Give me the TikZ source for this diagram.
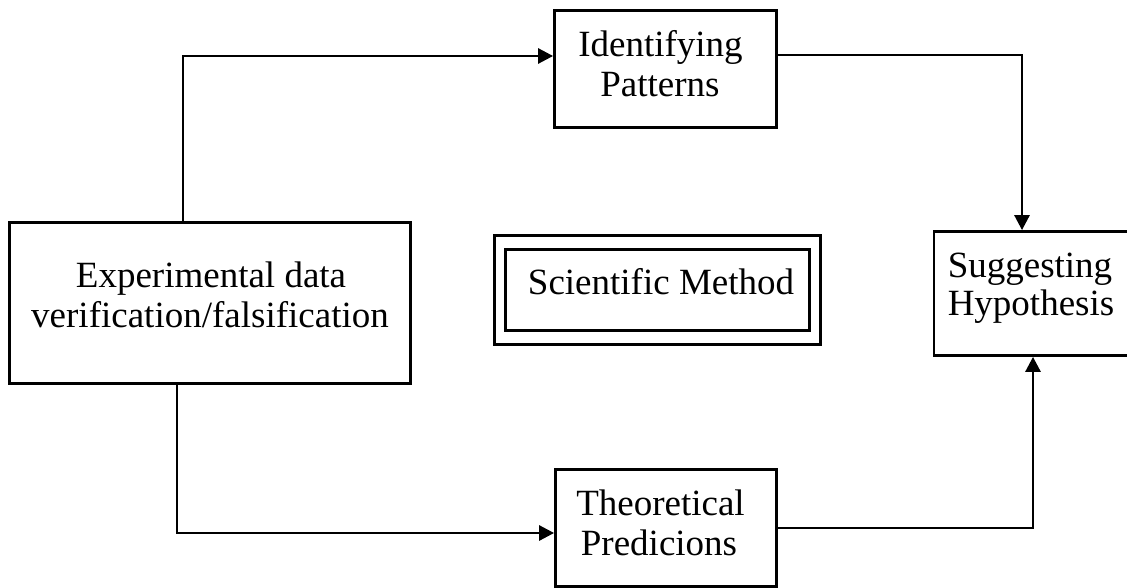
\documentclass[tikz,border=0pt]{standalone}
\usepackage{fontspec}
\setmainfont{Liberation Serif}
\usetikzlibrary{arrows.meta}
\tikzset{
  boxnode/.style={draw=black, line width=2.8pt, inner sep=0pt, rectangle},
  txt/.style={font=\fontsize{37}{40}\selectfont, inner sep=0pt, anchor=base},
  conn/.style={draw=black, line width=2.8pt},
  arr/.style={conn, -{Triangle[length=15pt,width=15pt]}}
}
\begin{document}
\begin{tikzpicture}[x=1pt,y=-1pt]
\useasboundingbox (0,0) rectangle (1127,588);
% boxes
\node[boxnode, minimum width=222pt, minimum height=117pt] (idbox) at (665.5,69) {};
\node[boxnode, minimum width=401pt, minimum height=161pt] (exp) at (210,303) {};
\node[boxnode, minimum width=200pt, minimum height=124pt] (sug) at (1034,293.5) {};
\node[boxnode, minimum width=221pt, minimum height=117pt] (theo) at (666,528) {};
\node[boxnode, minimum width=326pt, minimum height=109pt] (smout) at (657.5,290) {};
\node[boxnode, minimum width=304pt, minimum height=81pt] (smin) at (657.5,290) {};
% texts
\node[txt] (idA) at (660.5,57) {Identifying};
\node[txt] (idB) at (660,97) {Patterns};
\node[txt] (expA) at (211,287) {Experimental data};
\node[txt] (expB) at (210,327) {verification/falsification};
\node[txt] (sugA) at (1030,277) {Suggesting};
\node[txt] (sugB) at (1031,315) {Hypothesis};
\node[txt] (theoA) at (660.5,515) {Theoretical};
\node[txt] (theoB) at (659,555) {Predicions};
\node[txt] (smA) at (661,294) {Scientific Method};
% connector bends
\coordinate (c1) at (183,56);
\coordinate (c2) at (1022,55);
\coordinate (c3) at (177,533);
\coordinate (c4) at (1033,528);
% connectors
\draw[arr] (exp.north -| c1) -- (c1) -- (idbox.west |- c1);
\draw[arr] (idbox.east |- c2) -- (c2) -- (sug.north -| c2);
\draw[arr] (exp.south -| c3) -- (c3) -- (theo.west |- c3);
\draw[arr] (theo.east |- c4) -- (c4) -- (sug.south -| c4);
\end{tikzpicture}
\end{document}
